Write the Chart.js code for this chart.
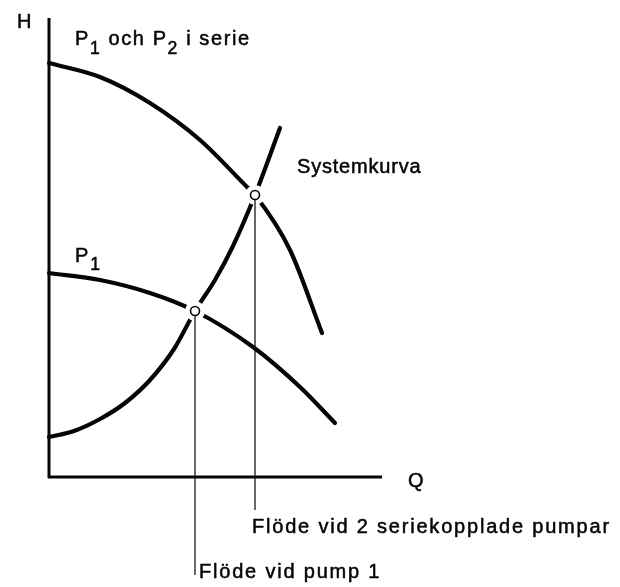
<!DOCTYPE html>
<html>
<head>
<meta charset="utf-8">
<script src="https://cdn.jsdelivr.net/npm/chart.js@4/dist/chart.umd.min.js"></script>
<style>
  html, body { margin: 0; padding: 0; background: #fff; }
  #wrap { width: 620px; height: 587px; }
</style>
</head>
<body>
<div id="wrap"><canvas id="c" width="620" height="587"></canvas></div>
<script>
// Curves (Q = flow, H = head) (origin at axes corner)
const seriesQ = [0, 51, 101, 151, 198, 206, 241, 273];
const seriesH = [414, 400, 374, 337, 290, 282, 227, 144];

const systemQ = [0, 25, 51, 76, 101, 125, 146, 166, 184, 206, 231];
const systemH = [40, 46, 58, 74, 97, 128, 166, 197, 231, 282, 349];

const p1Q = [0, 51, 101, 146, 204, 251, 286];
const p1H = [204, 197, 184, 166, 130, 90, 54];

// Operating points
const opQ = [146, 206];
const opH = [166, 282];
const dropEnd = [-98, -33];

// Axes extents
const axisQmax = 333;
const axisHmax = 459;

const ink = '#050505';
const pts = (xs, ys) => xs.map((x, i) => ({ x, y: ys[i] }));

const curveStyle = {
  borderColor: ink, borderWidth: 4.2, pointRadius: 0, showLine: true,
  cubicInterpolationMode: 'monotone', borderCapStyle: 'round', fill: false, clip: false
};

const datasets = [
  // axes
  { data: [{x: 0, y: -1}, {x: 0, y: axisHmax}], borderColor: ink, borderWidth: 3, pointRadius: 0, showLine: true, order: 6, clip: false },
  { data: [{x: -1, y: 0}, {x: axisQmax, y: 0}], borderColor: ink, borderWidth: 3, pointRadius: 0, showLine: true, order: 6, clip: false },
  // curves
  Object.assign({ data: pts(seriesQ, seriesH), order: 5 }, curveStyle),
  Object.assign({ data: pts(systemQ, systemH), order: 5 }, curveStyle),
  Object.assign({ data: pts(p1Q, p1H), order: 5 }, curveStyle),
  // white halos around operating points
  { data: pts(opQ, opH), showLine: false, pointRadius: 10, pointBackgroundColor: '#fff', pointBorderWidth: 0, pointBorderColor: '#fff', order: 4, clip: false },
  // drop lines
  { data: [{x: opQ[0], y: opH[0]}, {x: opQ[0], y: dropEnd[0]}], borderColor: ink, borderWidth: 1.2, pointRadius: 0, showLine: true, order: 3, clip: false },
  { data: [{x: opQ[1], y: opH[1]}, {x: opQ[1], y: dropEnd[1]}], borderColor: ink, borderWidth: 1.2, pointRadius: 0, showLine: true, order: 3, clip: false },
  // operating point circles
  { data: pts(opQ, opH), showLine: false, pointRadius: 4.5, pointBackgroundColor: '#fff', pointBorderColor: ink, pointBorderWidth: 1.6, order: 1, clip: false }
];

const FONT = '"Liberation Sans", Arial, Helvetica, sans-serif';

const labelPlugin = {
  id: 'labels',
  afterDatasetsDraw(chart, args, opts) {
    const ctx = chart.ctx;
    const xs = chart.scales.x, ys = chart.scales.y;
    ctx.save();
    ctx.fillStyle = ink;
    ctx.strokeStyle = ink;
    ctx.lineWidth = 0.5;
    ctx.lineJoin = 'round';
    ctx.textBaseline = 'alphabetic';
    ctx.textAlign = 'left';
    for (const lab of opts.items) {
      let px = xs.getPixelForValue(lab.x);
      const py = ys.getPixelForValue(lab.y);
      ctx.letterSpacing = (lab.spacing || 0) + 'px';
      for (const seg of lab.parts) {
        const size = seg.sub ? lab.size * 0.88 : lab.size;
        ctx.font = `${size}px ${FONT}`;
        const yy = py + (seg.sub ? lab.subOffset : 0);
        ctx.fillText(seg.t, px, yy);
        ctx.strokeText(seg.t, px, yy);
        px += ctx.measureText(seg.t).width;
      }
    }
    ctx.restore();
  }
};

new Chart(document.getElementById('c'), {
  type: 'scatter',
  data: { datasets },
  options: {
    responsive: false,
    devicePixelRatio: 1,
    animation: false,
    layout: { padding: 0, autoPadding: false },
    scales: {
      x: { type: 'linear', min: -49, max: 571, display: false },
      y: { type: 'linear', min: -110, max: 477, display: false }
    },
    plugins: {
      legend: { display: false },
      tooltip: { enabled: false },
      labels: {
        items: [
          { x: -32, y: 449, size: 20, spacing: 0, parts: [{ t: 'H' }] },
          { x: 26, y: 432, size: 20, spacing: 1.6, subOffset: 9,
            parts: [{ t: 'P' }, { t: '1', sub: true }, { t: ' och P' }, { t: '2', sub: true }, { t: ' i serie' }] },
          { x: 248, y: 304, size: 20, spacing: 0.8, parts: [{ t: 'Systemkurva' }] },
          { x: 26, y: 215, size: 20, spacing: 2, subOffset: 8, parts: [{ t: 'P' }, { t: '1', sub: true }] },
          { x: 359, y: -10, size: 20, spacing: 0, parts: [{ t: 'Q' }] },
          { x: 203, y: -56, size: 20, spacing: 1.8, parts: [{ t: 'Flöde vid 2 seriekopplade pumpar' }] },
          { x: 150, y: -101, size: 20, spacing: 1.8, parts: [{ t: 'Flöde vid pump 1' }] }
        ]
      }
    }
  },
  plugins: [labelPlugin]
});
</script>
</body>
</html>
